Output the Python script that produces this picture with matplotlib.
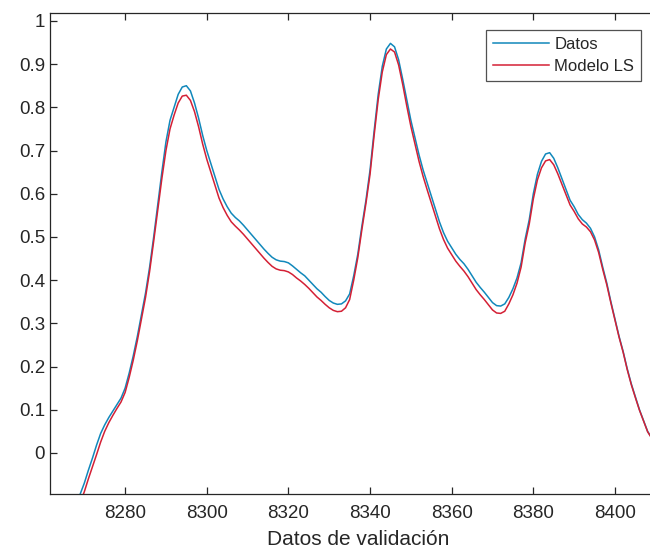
import numpy as np
import matplotlib
matplotlib.use("Agg")
import matplotlib.pyplot as plt
from matplotlib.ticker import FuncFormatter

plt.rcParams['font.family'] = ['Liberation Sans', 'DejaVu Sans']

# Sample index of the validation window
x_idx = list(range(8269, 8410))

# Measured data (Datos)
datos = [
    -0.095, -0.07, -0.04, -0.012, 0.018, 0.045, 0.065, 0.082, 0.097, 0.112,   # 8269-8278
    0.127, 0.15, 0.185, 0.225, 0.27, 0.32, 0.37, 0.43, 0.50, 0.575,            # 8279-8288
    0.65, 0.72, 0.77, 0.80, 0.83, 0.847, 0.85, 0.838, 0.81, 0.775,            # 8289-8298
    0.735, 0.70, 0.67, 0.64, 0.61, 0.588, 0.57, 0.555, 0.545, 0.537,           # 8299-8308
    0.527, 0.516, 0.505, 0.494, 0.483, 0.472, 0.462, 0.453, 0.447, 0.444,      # 8309-8318
    0.443, 0.44, 0.433, 0.425, 0.417, 0.41, 0.40, 0.39, 0.38, 0.372,           # 8319-8328
    0.362, 0.353, 0.347, 0.344, 0.345, 0.352, 0.368, 0.41, 0.46, 0.525,        # 8329-8338
    0.585, 0.655, 0.745, 0.83, 0.895, 0.935, 0.948, 0.94, 0.91, 0.865,         # 8339-8348
    0.817, 0.77, 0.73, 0.69, 0.655, 0.625, 0.595, 0.565, 0.535, 0.51,          # 8349-8358
    0.49, 0.475, 0.46, 0.448, 0.438, 0.425, 0.41, 0.395, 0.383, 0.372,         # 8359-8368
    0.36, 0.348, 0.341, 0.34, 0.345, 0.36, 0.38, 0.405, 0.44, 0.495,           # 8369-8378
    0.54, 0.60, 0.645, 0.675, 0.692, 0.695, 0.682, 0.66, 0.635, 0.61,          # 8379-8388
    0.585, 0.57, 0.552, 0.54, 0.532, 0.52, 0.50, 0.47, 0.43, 0.393,            # 8389-8398
    0.35, 0.31, 0.27, 0.235, 0.195, 0.16, 0.13, 0.10, 0.075, 0.05,             # 8399-8408
    0.035,                                                                    # 8409
]

# Least-squares model output (Modelo LS)
modelo = [
    -0.115, -0.09, -0.06, -0.032, -0.004, 0.025, 0.05, 0.07, 0.087, 0.103,     # 8269-8278
    0.118, 0.14, 0.175, 0.215, 0.26, 0.31, 0.36, 0.42, 0.49, 0.563,           # 8279-8288
    0.635, 0.70, 0.75, 0.782, 0.81, 0.826, 0.828, 0.816, 0.79, 0.755,          # 8289-8298
    0.715, 0.68, 0.65, 0.62, 0.59, 0.568, 0.55, 0.535, 0.525, 0.516,           # 8299-8308
    0.506, 0.495, 0.484, 0.473, 0.462, 0.451, 0.441, 0.432, 0.426, 0.423,      # 8309-8318
    0.422, 0.419, 0.413, 0.405, 0.398, 0.39, 0.381, 0.371, 0.361, 0.353,       # 8319-8328
    0.344, 0.336, 0.33, 0.327, 0.328, 0.336, 0.355, 0.4, 0.452, 0.517,         # 8329-8338
    0.578, 0.645, 0.735, 0.818, 0.882, 0.922, 0.935, 0.928, 0.898, 0.853,      # 8339-8348
    0.803, 0.756, 0.715, 0.675, 0.64, 0.609, 0.579, 0.549, 0.519, 0.494,       # 8349-8358
    0.474, 0.459, 0.444, 0.432, 0.421, 0.408, 0.393, 0.378, 0.366, 0.355,      # 8359-8368
    0.343, 0.331, 0.324, 0.323, 0.328, 0.345, 0.366, 0.393, 0.43, 0.486,       # 8369-8378
    0.53, 0.588, 0.632, 0.66, 0.676, 0.679, 0.667, 0.646, 0.622, 0.598,        # 8379-8388
    0.574, 0.559, 0.542, 0.53, 0.523, 0.512, 0.493, 0.464, 0.425, 0.389,       # 8389-8398
    0.347, 0.308, 0.268, 0.233, 0.193, 0.158, 0.128, 0.099, 0.074, 0.049,      # 8399-8408
    0.034,                                                                    # 8409
]

x_ticks = [8280, 8300, 8320, 8340, 8360, 8380, 8400]
y_ticks = [0, 0.1, 0.2, 0.3, 0.4, 0.5, 0.6, 0.7, 0.8, 0.9, 1.0]

W, H = 650, 553
fig = plt.figure(figsize=(W / 100, H / 100), dpi=100)
# the axes runs a little past the right edge of the canvas
ax = fig.add_axes([50 / W, 59 / H, 616 / W, (494 - 12.7) / H])

ax.plot(x_idx, datos, color='#1188bb', lw=1.1, label='Datos')
ax.plot(x_idx, modelo, color='#d42035', lw=1.1, label='Modelo LS')

ax.set_xlim(8261.6, 8412.5)
ax.set_ylim(-0.095, 1.019)
ax.set_xticks(x_ticks)
ax.set_yticks(y_ticks)
ax.yaxis.set_major_formatter(FuncFormatter(lambda v, p: f"{v:g}"))

edge = '#262626'
for s in ax.spines.values():
    s.set_color(edge)
    s.set_linewidth(0.9)
ax.tick_params(direction='in', length=5, width=0.9, colors=edge,
               labelsize=13.5, top=True, right=True)
ax.tick_params(axis='x', pad=8)
ax.tick_params(axis='y', pad=3.5)

ax.set_xlabel('Datos de validación', fontsize=15, color=edge, labelpad=6)

leg = ax.legend(loc='upper right', bbox_to_anchor=(641 / W, 1 - 30 / H),
                bbox_transform=fig.transFigure, fontsize=12,
                frameon=True, fancybox=False, handlelength=3.35, handletextpad=0.3,
                borderpad=0.42, labelspacing=0.4, borderaxespad=0.0)
leg.get_frame().set_edgecolor(edge)
leg.get_frame().set_linewidth(0.9)
for t in leg.get_texts():
    t.set_color(edge)

fig.savefig('out.png', dpi=100)
